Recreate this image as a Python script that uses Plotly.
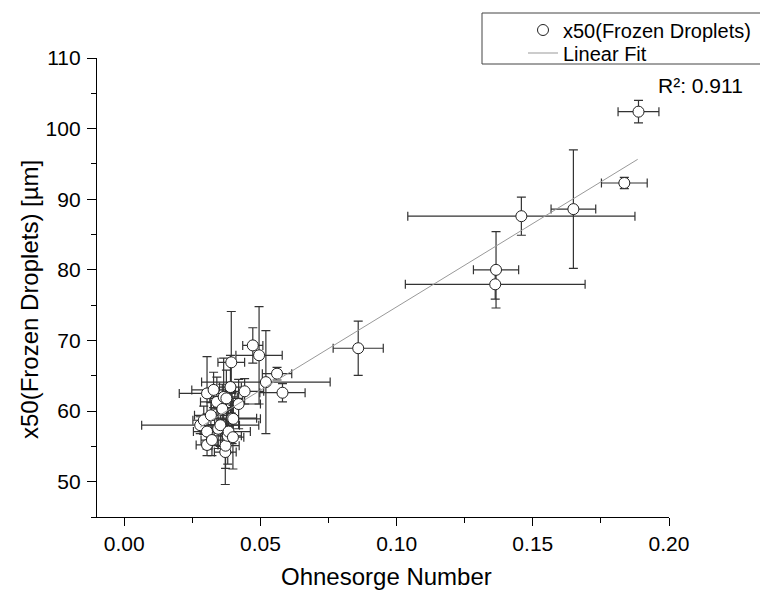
import plotly.graph_objects as go

# ---- data ----
ohnesorge = [0.0279, 0.0292, 0.0304, 0.0304, 0.0304, 0.0318, 0.0322, 0.0328, 0.0340, 0.0345,
             0.0353, 0.0360, 0.0365, 0.0371, 0.0372, 0.0375, 0.0380, 0.0383, 0.0390, 0.0393,
             0.0396, 0.0399, 0.0400, 0.0420, 0.0442, 0.0472, 0.0495, 0.0520, 0.0561, 0.0581,
             0.0859, 0.1362, 0.1365, 0.1458, 0.1649, 0.1836, 0.1888]
ohnesorge_err = [0.0215, 0.0040, 0.0050, 0.0040, 0.0102, 0.0060, 0.0040, 0.0080, 0.0060, 0.0050,
                 0.0070, 0.0040, 0.0050, 0.0040, 0.0050, 0.0060, 0.0050, 0.0080, 0.0040, 0.0049,
                 0.0090, 0.0040, 0.0100, 0.0080, 0.0070, 0.0037, 0.0085, 0.0236, 0.0054, 0.0083,
                 0.0092, 0.0330, 0.0083, 0.0417, 0.0082, 0.0084, 0.0075]
x50 = [58.0, 58.7, 57.1, 55.2, 62.5, 59.4, 55.9, 63.0, 61.3, 57.5,
       58.0, 60.3, 62.0, 54.2, 55.1, 61.8, 56.5, 57.1, 63.4, 66.9,
       59.0, 56.3, 58.9, 61.0, 62.8, 69.3, 67.9, 64.1, 65.3, 62.6,
       68.9, 77.95, 80.0, 87.6, 88.6, 92.3, 102.4]
x50_err = [1.2, 2.0, 2.5, 1.5, 5.2, 1.8, 2.2, 2.5, 3.5, 2.8,
           3.0, 3.5, 5.5, 4.6, 3.2, 4.0, 4.0, 3.0, 4.5, 7.2,
           3.6, 4.5, 2.5, 3.5, 1.8, 2.5, 6.9, 7.3, 0.9, 1.3,
           3.85, 2.1, 5.4, 2.7, 8.4, 0.8, 1.6]

fit_x = [0.0279, 0.1885]
fit_y = [57.73, 95.65]

x_ticks = [0.00, 0.05, 0.10, 0.15, 0.20]
x_tick_text = ["0.00", "0.05", "0.10", "0.15", "0.20"]
y_ticks = [50, 60, 70, 80, 90, 100, 110]

r2_text = "R²: 0.911"

FONT = "Liberation Sans, Arial, sans-serif"

# the page body has an 8px margin, so the figure is sized/offset to compensate
OFF = 8
W, H = 768 - OFF, 592 - OFF
PAGE_L, PAGE_R, PAGE_T, PAGE_B = 97, 669, 58, 517   # plot area in page pixels
L, T = PAGE_L - OFF, PAGE_T - OFF
R, B = W - (PAGE_R - OFF), H - (PAGE_B - OFF)
pw, ph = PAGE_R - PAGE_L, PAGE_B - PAGE_T


def px2paper_x(px):
    return (px - PAGE_L) / pw


def px2paper_y(py):
    return (PAGE_B - py) / ph


fig = go.Figure()

fig.add_trace(go.Scatter(
    x=ohnesorge, y=x50, mode="markers", name="x50(Frozen Droplets)",
    legend="legend",
    marker=dict(symbol="circle", size=11, color="white",
                line=dict(color="#222", width=1)),
    error_x=dict(type="data", array=ohnesorge_err, visible=True,
                 color="#333", thickness=1.2, width=4.5),
    error_y=dict(type="data", array=x50_err, visible=True,
                 color="#333", thickness=1.2, width=4.5),
))

fig.add_trace(go.Scatter(
    x=fit_x, y=fit_y, mode="lines", name="Linear Fit",
    legend="legend2",
    line=dict(color="#999", width=1),
))

axis_common = dict(
    showline=True, linecolor="black", linewidth=1.3,
    ticks="outside", tickcolor="black", tickwidth=1.3,
    showgrid=False, zeroline=False, mirror=False,
    tickfont=dict(family=FONT, size=21, color="black"),
)

fig.update_xaxes(
    range=[-0.01, 0.20], tickvals=x_ticks, ticktext=x_tick_text,
    ticklen=8,
    minor=dict(ticks="outside", dtick=0.025, tick0=0, ticklen=5,
               tickcolor="black", tickwidth=1.3),
    **axis_common,
)
fig.update_yaxes(
    range=[45, 110], tickvals=y_ticks,
    ticklen=9, ticklabelstandoff=2,
    minor=dict(ticks="outside", dtick=5, tick0=0, ticklen=5,
               tickcolor="black", tickwidth=1.3),
    **axis_common,
)

# legend frame (extends past the right edge as in the reference)
fig.add_shape(type="rect", xref="paper", yref="paper",
              x0=px2paper_x(482), x1=px2paper_x(800),
              y0=px2paper_y(64), y1=px2paper_y(13),
              line=dict(color="#444", width=1), fillcolor="white", layer="above")

fig.add_annotation(x=px2paper_x(386), y=px2paper_y(576), xref="paper", yref="paper",
                   text="Ohnesorge Number", showarrow=False,
                   xanchor="center", yanchor="middle",
                   font=dict(family=FONT, size=24, color="black"))
fig.add_annotation(x=px2paper_x(29), y=px2paper_y(300), xref="paper", yref="paper",
                   text="x50(Frozen Droplets) [µm]", showarrow=False, textangle=-90,
                   xanchor="center", yanchor="middle",
                   font=dict(family=FONT, size=24, color="black"))
fig.add_annotation(x=px2paper_x(656), y=px2paper_y(85), xref="paper", yref="paper",
                   text=r2_text, showarrow=False, xanchor="left", yanchor="middle",
                   font=dict(family=FONT, size=21, color="black"))

legend_common = dict(xanchor="left", yanchor="middle",
                     bgcolor="rgba(0,0,0,0)", borderwidth=0,
                     font=dict(family=FONT, size=20, color="black"))

fig.update_layout(
    width=W, height=H,
    margin=dict(l=L, r=R, t=T, b=B, autoexpand=False),
    paper_bgcolor="white", plot_bgcolor="white",
    showlegend=True,
    legend=dict(x=px2paper_x(523), y=px2paper_y(30), **legend_common),
    legend2=dict(x=px2paper_x(523), y=px2paper_y(53), **legend_common),
)

fig.write_html("out.html")
